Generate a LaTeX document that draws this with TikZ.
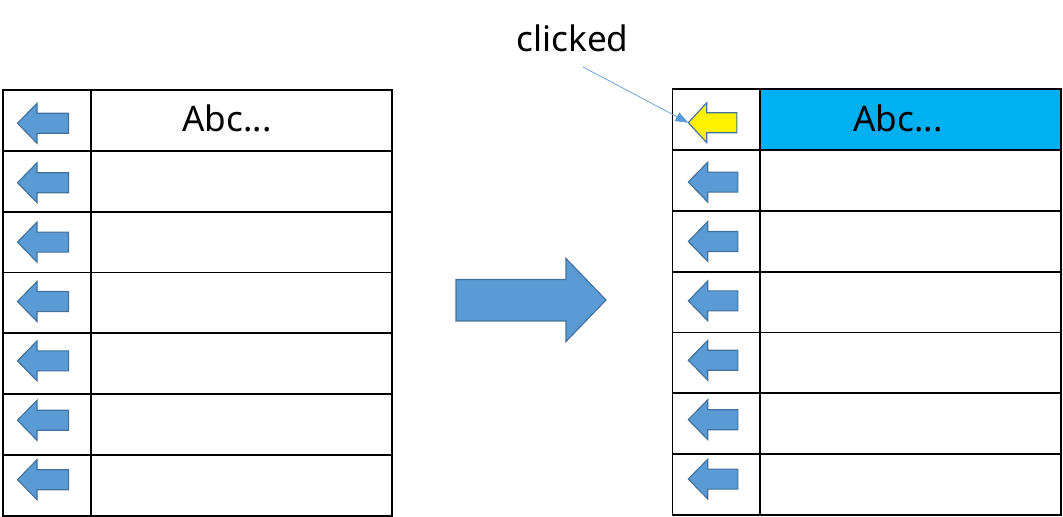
\documentclass[tikz,border=0pt]{standalone}
\usepackage{fontspec}
\setmainfont{Noto Sans}
\usetikzlibrary{arrows.meta}

\definecolor{arrowblue}{HTML}{5B9BD5}
\definecolor{arrowedge}{HTML}{41719C}
\definecolor{selcyan}{HTML}{00B0F0}

\tikzset{
  cell/.style={draw, line width=1.3pt, minimum height=1.52cm, inner sep=0pt, anchor=north west},
  iconcell/.style={cell, minimum width=2.2cm},
  textcell/.style={cell, minimum width=7.525cm},
  backarrow/.style={draw=arrowedge, fill=arrowblue, line width=0.8pt, line join=miter},
  celltext/.style={anchor=base, inner sep=0pt, font=\fontsize{25}{30}\selectfont},
}

\begin{document}
\begin{tikzpicture}[x=0.025cm, y=-0.025cm]

    \useasboundingbox (0,0) rectangle (1063,517);

    % left list
    \foreach \i in {1,...,7} {
        \node[iconcell] (L-\i-a) at (2, {89+(\i-1)*60.86}) {};
        \node[textcell] (L-\i-b) at (90, {89+(\i-1)*60.86}) {};
        \draw[backarrow] (17.5, {123.3+(\i-1)*59.4}) -- ++(19.5,-20) -- ++(0,10) -- ++(31.5,0)
            -- ++(0,20) -- ++(-31.5,0) -- ++(0,10) -- cycle;
    }
    \node[celltext] (L-title) at (227,132) {Abc...};

    % right list, first row selected
    \node[textcell, fill=selcyan] (R-1-b) at (759.3,88.3) {};
    \foreach \i in {2,...,7} {
        \node[textcell] (R-\i-b) at (759.3, {88.3+(\i-1)*60.8}) {};
    }
    \foreach \i in {1,...,7} {
        \node[iconcell] (R-\i-a) at (671.5, {88.3+(\i-1)*60.8}) {};
    }
    \foreach \i in {2,...,7} {
        \draw[backarrow] (688.3, {122.7+(\i-1)*59.4}) -- ++(19.5,-20) -- ++(0,10) -- ++(30,0)
            -- ++(0,20) -- ++(-30,0) -- ++(0,10) -- cycle;
    }
    \draw[backarrow, fill=yellow] (688.3,122.7) -- ++(18.5,-20) -- ++(0,10) -- ++(30,0)
        -- ++(0,20) -- ++(-30,0) -- ++(0,10) -- cycle;
    \coordinate (ytip) at (688.3,122.7);
    \node[celltext] (R-title) at (898,132) {Abc...};

    % big arrow between the lists
    \draw[backarrow] (456,279.5) -- (566,279.5) -- (566,258.5) -- (606,300)
        -- (566,341.5) -- (566,321) -- (456,321) -- cycle;

    % click note
    \node[celltext] (clicked) at (572.5,52) {clicked};
    \coordinate (clickfoot) at (583,67);
    \draw[arrowblue, line width=0.5pt, -{Triangle[length=0.32cm,width=0.24cm]}] (clickfoot) -- (ytip);

\end{tikzpicture}
\end{document}
